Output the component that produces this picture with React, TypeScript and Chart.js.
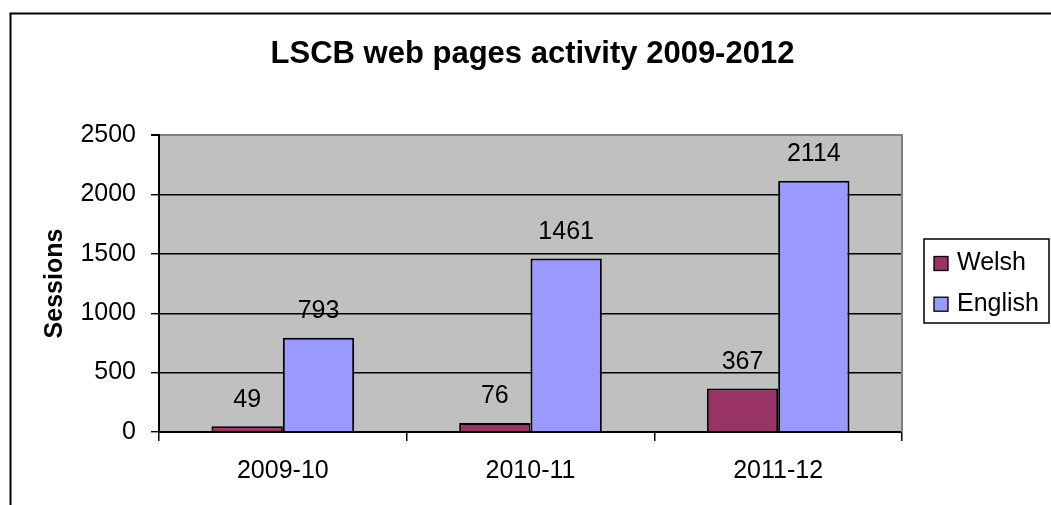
import { useEffect, useRef } from "react";
import { Chart, registerables } from "chart.js";

Chart.register(...registerables);

const categories = ["2009-10", "2010-11", "2011-12"];
const welshValues = [49, 76, 367];
const englishValues = [793, 1461, 2114];
const seriesNames = ["Welsh", "English"];
const seriesColors = ["#993366", "#9999FF"];
const yTicks = [0, 500, 1000, 1500, 2000, 2500];
const chartTitle = "LSCB web pages activity 2009-2012";
const yAxisTitle = "Sessions";

const FONT = '"Liberation Sans", Arial, Helvetica, sans-serif';
const W = 1051;
const H = 505;

const framePlugin = {
  id: "frame",
  beforeDraw(chart: any) {
    const { ctx, chartArea, width, height } = chart;
    ctx.save();
    ctx.fillStyle = "#ffffff";
    ctx.fillRect(0, 0, width, height);
    ctx.strokeStyle = "#000000";
    ctx.lineWidth = 2;
    ctx.strokeRect(10.5, 13.5, width + 40, height + 40);
    ctx.fillStyle = "#C0C0C0";
    ctx.fillRect(chartArea.left, chartArea.top, chartArea.right - chartArea.left, chartArea.bottom - chartArea.top);
    ctx.restore();
  },
  beforeDatasetsDraw(chart: any) {
    const { ctx, chartArea } = chart;
    ctx.save();
    ctx.strokeStyle = "#808080";
    ctx.lineWidth = 2;
    ctx.beginPath();
    ctx.moveTo(chartArea.right, chartArea.top - 1);
    ctx.lineTo(chartArea.right, chartArea.bottom);
    ctx.stroke();
    ctx.restore();
  },
};

const valueLabelPlugin = {
  id: "valueLabels",
  afterDatasetsDraw(chart: any) {
    const { ctx } = chart;
    ctx.save();
    ctx.font = `25px ${FONT}`;
    ctx.fillStyle = "#000000";
    ctx.textAlign = "center";
    ctx.textBaseline = "middle";
    chart.data.datasets.forEach((ds: any, i: number) => {
      const meta = chart.getDatasetMeta(i);
      meta.data.forEach((el: any, j: number) => {
        ctx.fillText(String(ds.data[j]), el.x, el.y - 26.5);
      });
    });
    ctx.restore();
  },
};

const boxLegendPlugin = {
  id: "boxLegend",
  afterDraw(chart: any) {
    const { ctx, chartArea, width } = chart;
    const left = chartArea.right + 22;
    const right = width - 2;
    const boxH = 84;
    const top = (chartArea.top + chartArea.bottom) / 2 - 2.5 - boxH / 2;
    ctx.save();
    ctx.fillStyle = "#ffffff";
    ctx.fillRect(left, top, right - left, boxH);
    ctx.strokeStyle = "#000000";
    ctx.lineWidth = 1.5;
    ctx.strokeRect(left, top, right - left, boxH);
    ctx.font = `25px ${FONT}`;
    ctx.textBaseline = "middle";
    ctx.textAlign = "left";
    chart.data.datasets.forEach((ds: any, i: number) => {
      const cy = top + 24.5 + i * 40.7;
      const sx = left + 10;
      ctx.fillStyle = ds.backgroundColor;
      ctx.fillRect(sx, cy - 7, 14, 14);
      ctx.strokeStyle = "#000000";
      ctx.lineWidth = 1.3;
      ctx.strokeRect(sx, cy - 7, 14, 14);
      ctx.fillStyle = "#000000";
      ctx.fillText(ds.label, left + 33, cy);
    });
    ctx.restore();
  },
};

export default function App() {
  const ref = useRef<HTMLCanvasElement>(null);

  useEffect(() => {
    document.body.style.margin = "0";
    Chart.defaults.font.family = FONT;
    const topTick = yTicks[yTicks.length - 1];
    const chart = new Chart(ref.current as HTMLCanvasElement, {
      type: "bar",
      data: {
        labels: categories,
        datasets: [
          {
            label: seriesNames[0],
            data: welshValues,
            backgroundColor: seriesColors[0],
            borderColor: "#000000",
            borderWidth: 2,
            categoryPercentage: 0.576,
            barPercentage: 1,
          },
          {
            label: seriesNames[1],
            data: englishValues,
            backgroundColor: seriesColors[1],
            borderColor: "#000000",
            borderWidth: 2,
            categoryPercentage: 0.576,
            barPercentage: 1,
          },
        ],
      },
      options: {
        responsive: false,
        animation: false,
        devicePixelRatio: 1,
        layout: { padding: { left: 14, right: 0, top: 0, bottom: 0 } },
        plugins: {
          legend: { display: false },
          tooltip: { enabled: false },
          title: {
            display: true,
            text: chartTitle,
            color: "#000000",
            font: { size: 31, weight: "bold", family: FONT },
            padding: { top: 35.4, bottom: 62.4 },
          },
        },
        scales: {
          x: {
            grid: {
              display: true,
              drawOnChartArea: false,
              drawTicks: true,
              tickLength: 9,
              color: "#000000",
              lineWidth: 1.5,
              offset: true,
            },
            border: { display: true, color: "#000000", width: 2 },
            ticks: { color: "#000000", font: { size: 25, family: FONT }, padding: 15 },
            afterFit: (s: any) => {
              s.height = 73;
            },
          },
          y: {
            min: yTicks[0],
            max: topTick,
            ticks: {
              stepSize: yTicks[1] - yTicks[0],
              color: "#000000",
              font: { size: 25, family: FONT },
              padding: 15,
              callback: (v: any) => String(v),
            },
            grid: {
              color: (c: any) => (c.tick && c.tick.value === topTick ? "#808080" : "#000000"),
              lineWidth: (c: any) => (c.tick && c.tick.value === topTick ? 2 : 1.4),
              tickColor: "#000000",
              tickLength: 8,
              drawTicks: true,
            },
            border: { display: true, color: "#000000", width: 2 },
            title: {
              display: true,
              text: yAxisTitle,
              color: "#000000",
              font: { size: 25, weight: "bold", family: FONT },
              padding: { top: 26, bottom: 0 },
            },
            afterFit: (s: any) => {
              s.width = 145;
            },
          },
          legendSpace: {
            type: "linear",
            position: "right",
            display: true,
            grid: { display: false },
            border: { display: false },
            ticks: { display: false },
            afterFit: (s: any) => {
              s.width = 149;
            },
          },
        },
      } as any,
      plugins: [framePlugin, valueLabelPlugin, boxLegendPlugin],
    });
    return () => chart.destroy();
  }, []);

  return (
    <div style={{ width: W, height: H }}>
      <canvas ref={ref} width={W} height={H} style={{ display: "block" }} />
    </div>
  );
}
